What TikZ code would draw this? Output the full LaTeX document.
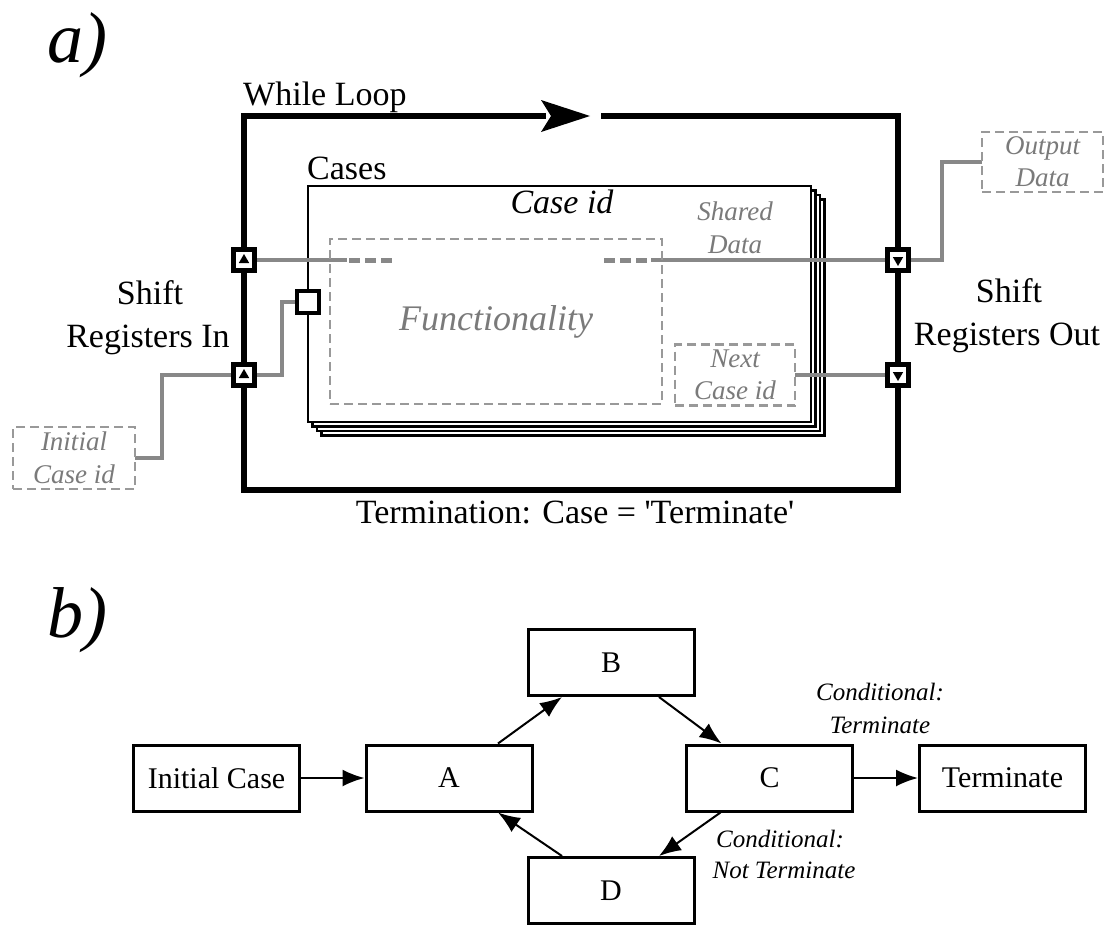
\documentclass[tikz,border=0pt]{standalone}
\usepackage{fontspec}
\setmainfont{Liberation Serif}
\usetikzlibrary{arrows.meta,shapes.geometric}
\definecolor{wiregray}{HTML}{888888}
\definecolor{txtgray}{HTML}{7A7A7A}
\definecolor{boxgray}{HTML}{999999}
\pgfdeclarelayer{bg}
\pgfdeclarelayer{mid}
\pgfsetlayers{bg,mid,main}
\begin{document}
\begin{tikzpicture}[x=1pt,y=-1pt,
  loopln/.style={line width=6pt, line join=miter},
  stackbox/.style={draw, line width=2.5pt, fill=white},
  srbox/.style={draw, line width=5pt, fill=white, minimum size=21pt, inner sep=0pt, outer sep=0pt},
  tri/.style={regular polygon, regular polygon sides=3, fill=black, minimum size=12pt, inner sep=0pt},
  wire/.style={draw=wiregray, line width=4.5pt},
  wiredash/.style={draw=wiregray, line width=5pt, dash pattern=on 11pt off 5pt},
  dbox/.style={draw=boxgray, line width=2.5pt, dash pattern=on 9pt off 5pt, inner sep=0pt, outer sep=0pt, align=center, text=txtgray},
  lbl/.style={font=\fontsize{34}{40}\selectfont, inner sep=0pt},
  glbl/.style={text=txtgray, font=\itshape\fontsize{27}{30}\selectfont, inner sep=0pt},
  sbox/.style={draw, line width=3pt, minimum width=166pt, minimum height=66pt, inner sep=0pt, font=\fontsize{30}{36}\selectfont},
  arr/.style={line width=2pt, -{Latex[length=22pt,width=17pt]}},
  cond/.style={font=\itshape\fontsize{25}{30}\selectfont, inner sep=0pt},
  big/.style={font=\itshape\fontsize{72}{80}\selectfont, inner sep=0pt},
]
\useasboundingbox (0,0) rectangle (1106,926);

% ---------- part a ----------
\node[big] (la) at (77,45) {a)};

\begin{pgfonlayer}{bg}
  \draw[loopln] (601,116) -- (898,116) -- (898,490) -- (244,490) -- (244,116) -- (546,116);
  \fill (590,116) -- (541,100) -- (551,116) -- (541,132) -- cycle;
  \foreach \k in {3,2,1,0}
    \draw[stackbox] ({308+4.5*\k},{186+4.5*\k}) rectangle ({811+4.5*\k},{422+4.5*\k});
\end{pgfonlayer}

\node[lbl, anchor=base west] (wl) at (243,105) {While Loop};
\node[lbl, anchor=base west] (cs) at (307,179) {Cases};
\node[lbl, anchor=base, font=\itshape\fontsize{34}{40}\selectfont] (cid) at (562,213) {Case id};

\node[dbox, minimum width=332pt, minimum height=165pt, font=\itshape\fontsize{36}{40}\selectfont] (func) at (496,321.5) {Functionality};
\node[dbox, minimum width=120pt, minimum height=61pt, font=\itshape\fontsize{27}{32}\selectfont] (next) at (735,375) {Next\\Case id};
\node[dbox, minimum width=121pt, minimum height=60pt, font=\itshape\fontsize{27}{32}\selectfont] (outd) at (1042.5,162) {Output\\Data};
\node[dbox, minimum width=122pt, minimum height=62pt, font=\itshape\fontsize{27}{33}\selectfont] (init) at (74,458) {Initial\\Case id};

\node[glbl, anchor=base] (sh1) at (735,220) {Shared};
\node[glbl, anchor=base] (sh2) at (735,253) {Data};

\node[srbox] (in1) at (244,260) {};
\node[srbox] (in2) at (244,375) {};
\node[srbox] (out1) at (898,260) {};
\node[srbox] (out2) at (898,375) {};
\node[srbox, minimum size=22pt, line width=4.5pt] (sel) at (308,302) {};
\node[tri] (t1) at (in1) {};
\node[tri] (t2) at (in2) {};
\node[tri, shape border rotate=180] (t3) at (out1) {};
\node[tri, shape border rotate=180] (t4) at (out2) {};

\coordinate (w1a) at (347,260);
\coordinate (w1b) at (349,260);
\coordinate (w1c) at (395,260);
\coordinate (w2a) at (604,260);
\coordinate (w2b) at (651,260);

\begin{pgfonlayer}{mid}
  \draw[wire] (in1.east) -- (w1a);
  \draw[wiredash] (w1b) -- (w1c);
  \draw[wiredash] (w2a) -- (w2b);
  \draw[wire] (w2b) -- (out1.west);
  \draw[wire] (out1.east) -| ([xshift=-40pt]outd.west) -- (outd.west);
  \draw[wire] (next.east) -- (out2.west);
  \draw[wire] (in2.east) -| ([xshift=-15pt]sel.west) -- (sel.west);
  \draw[wire] (in2.west) -| ([xshift=27pt]init.east) -- (init.east);
\end{pgfonlayer}

\node[lbl, anchor=base] (sri1) at (150,304) {Shift};
\node[lbl, anchor=base] (sri2) at (148,347) {Registers In};
\node[lbl, anchor=base] (sro1) at (1009,302) {Shift};
\node[lbl, anchor=base] (sro2) at (1007,345) {Registers Out};

\node[lbl, anchor=base] (term) at (575,523) {Termination: Case = \textquotesingle Terminate\textquotesingle};

% ---------- part b ----------
\node[big] (lb) at (77,620) {b)};

\node[sbox] (I) at (216.5,778) {Initial Case};
\node[sbox] (A) at (449,778) {A};
\node[sbox] (B) at (611,662.5) {B};
\node[sbox] (C) at (769.5,778) {C};
\node[sbox] (T) at (1002.5,778) {Terminate};
\node[sbox] (D) at (611,890.5) {D};

\draw[arr] (I.east) -- (A.west);
\draw[arr] ([xshift=49pt]A.north) -- ([xshift=-49pt]B.south);
\draw[arr] ([xshift=48pt]B.south) -- ([xshift=-48pt]C.north);
\draw[arr] ([xshift=-49pt]C.south) -- ([xshift=48pt]D.north);
\draw[arr] ([xshift=-49pt]D.north) -- ([xshift=49pt]A.south);
\draw[arr] (C.east) -- (T.west);

\node[cond, anchor=base] (c1a) at (880,700) {Conditional:};
\node[cond, anchor=base] (c1b) at (880,733) {Terminate};
\node[cond, anchor=base] (c2a) at (780,847) {Conditional:};
\node[cond, anchor=base] (c2b) at (784,878) {Not Terminate};
\end{tikzpicture}
\end{document}
